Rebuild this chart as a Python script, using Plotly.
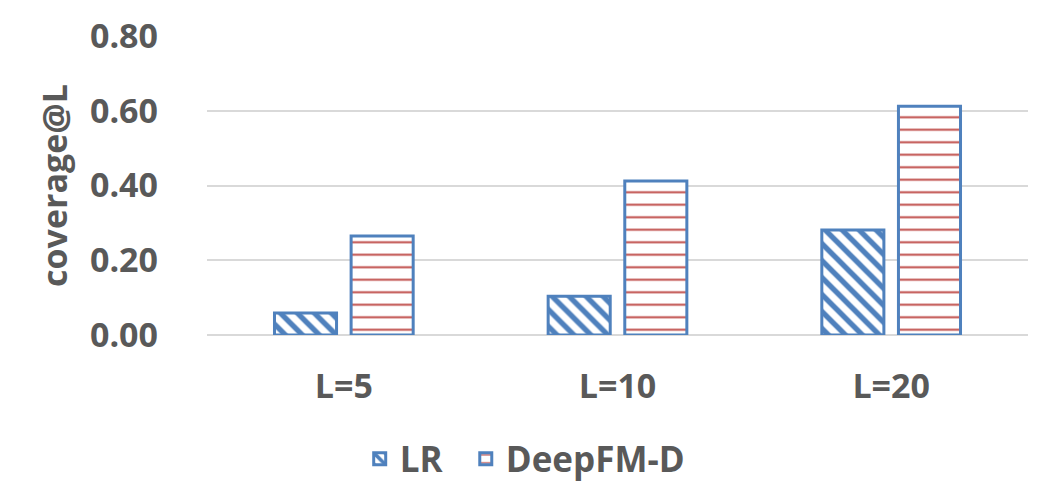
import plotly.graph_objects as go

categories = ["L=5", "L=10", "L=20"]
lr_values = [0.059, 0.104, 0.281]
deepfm_values = [0.265, 0.412, 0.612]
y_ticks = [0.0, 0.2, 0.4, 0.6, 0.8]
y_tick_labels = ["0.00", "0.20", "0.40", "0.60", "0.80"]

blue = "#4F81BD"
red = "#C0504D"
gray = "#595959"
font_family = "Open Sans"

fig = go.Figure()
fig.add_trace(go.Bar(
    name="LR\u00a0\u00a0", x=categories, y=lr_values,
    marker=dict(color="white", line=dict(color=blue, width=3),
                pattern=dict(shape="\\", fgcolor=blue, bgcolor="white",
                             size=12, solidity=0.45, fillmode="replace")),
))
fig.add_trace(go.Bar(
    name="DeepFM-D", x=categories, y=deepfm_values,
    marker=dict(color="white", line=dict(color=blue, width=3),
                pattern=dict(shape="-", fgcolor=red, bgcolor="white",
                             size=12.5, solidity=0.16, fillmode="replace")),
))

fig.update_layout(
    width=1050, height=502,
    paper_bgcolor="white", plot_bgcolor="white",
    margin=dict(l=199, r=30, t=28, b=175),
    barmode="group", bargap=0.44, bargroupgap=0.19,
    font=dict(family=font_family, color=gray, size=34),
    showlegend=True,
    legend=dict(orientation="h", x=0.186, xanchor="left", y=-0.415, yanchor="middle",
                font=dict(family=font_family, size=35, color=gray, weight="bold"),
                itemwidth=30),
)
fig.update_yaxes(
    range=[0, 0.8], tickvals=y_ticks, ticktext=y_tick_labels,
    showgrid=True, gridcolor="#D9D9D9", gridwidth=2,
    zeroline=True, zerolinecolor="#D9D9D9", zerolinewidth=2,
    showline=False, ticks="", automargin=False,
    tickfont=dict(family=font_family, size=34, color=gray, weight="bold"),
    title=dict(text="coverage@L", standoff=12,
               font=dict(family=font_family, size=34, color=gray, weight="bold")),
    ticklabelstandoff=48,
)
fig.update_xaxes(
    showline=False, ticks="", showgrid=False, automargin=False,
    tickfont=dict(family=font_family, size=34, color=gray, weight="bold"),
    ticklabelstandoff=28,
)

fig.write_html("out.html")
